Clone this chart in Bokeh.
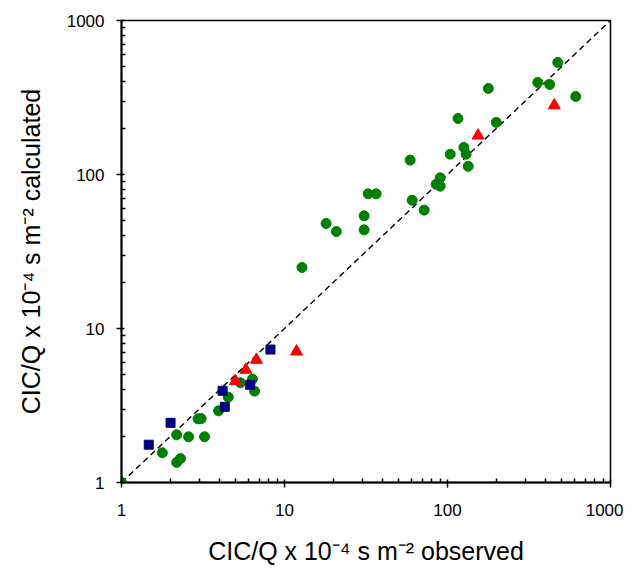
from bokeh.plotting import figure
from bokeh.models import Range1d, FixedTicker, PrintfTickFormatter
from bokeh.embed import file_html
from bokeh.resources import INLINE

# Green series (observed, calculated)
green_obs = [1, 1.78, 2.18, 2.58, 3.23, 2.18, 2.3, 2.95, 3.08, 3.94, 4.52, 5.37, 6.36, 6.55,
             12.8, 18.0, 20.8, 30.8, 30.8, 32.6, 36.5, 59, 60.7, 71.9, 85.2, 90.2, 90.2,
             103.9, 134, 126, 130, 116, 178, 199, 358, 424, 475, 612]
green_calc = [1, 1.56, 2.04, 1.98, 1.98, 1.35, 1.43, 2.59, 2.6, 2.92, 3.58, 4.44, 4.69, 3.92,
              24.9, 48.1, 42.6, 53.9, 43.7, 74.9, 74.9, 124, 68.1, 58.7, 86.5, 95.2, 84.0,
              135.5, 113, 150, 135.5, 231, 362, 218, 396, 384, 534, 321]

# Blue series
blue_obs = [1.47, 2.0, 4.17, 4.3, 6.16, 8.2]
blue_calc = [1.76, 2.44, 3.94, 3.1, 4.31, 7.3]

# Red series
red_obs = [5.0, 5.79, 6.73, 11.85, 154, 452]
red_calc = [4.55, 5.39, 6.26, 7.09, 179, 281]

# 1:1 line
line_vals = [1, 1000]

major_ticks = [1, 10, 100, 1000]
minor_ticks = [2, 3, 4, 5, 6, 7, 8, 9, 20, 30, 40, 50, 60, 70, 80, 90,
               200, 300, 400, 500, 600, 700, 800, 900]

x_label = "CIC/Q x 10\u207b\u2074 s m\u207b\u00b2 observed"
y_label = "CIC/Q x 10\u207b\u2074 s m\u207b\u00b2 calculated"

W, H = 623, 568
p = figure(width=W, height=H, x_axis_type="log", y_axis_type="log",
           x_range=Range1d(1, 1000), y_range=Range1d(1, 1000),
           output_backend="svg", toolbar_location=None,
           min_border_left=121, min_border_right=13, min_border_top=20, min_border_bottom=86)

p.background_fill_color = "white"
p.border_fill_color = "white"
p.outline_line_color = "black"
p.outline_line_width = 1.5
p.xgrid.visible = False
p.ygrid.visible = False

for ax in (p.xaxis[0], p.yaxis[0]):
    ax.ticker = FixedTicker(ticks=major_ticks, minor_ticks=minor_ticks)
    ax.formatter = PrintfTickFormatter(format="%d")
    ax.axis_line_color = "black"
    ax.axis_line_width = 2
    ax.major_tick_line_color = "black"
    ax.major_tick_line_width = 1.5
    ax.minor_tick_line_color = "black"
    ax.minor_tick_line_width = 1.5
    ax.major_tick_in = 3
    ax.major_tick_out = 5
    ax.minor_tick_in = 4
    ax.minor_tick_out = 0
    ax.major_label_text_font = "Liberation Sans"
    ax.major_label_text_font_size = "17px"
    ax.major_label_text_color = "black"
    ax.axis_label_text_font = "Liberation Sans"
    ax.axis_label_text_font_size = "25px"
    ax.axis_label_text_font_style = "normal"
    ax.axis_label_text_color = "black"

p.xaxis.axis_label = x_label
p.yaxis.axis_label = y_label
p.xaxis.major_label_standoff = 16
p.xaxis.axis_label_standoff = 18
p.yaxis.major_label_standoff = 12
p.yaxis.axis_label_standoff = 19

p.line(line_vals, line_vals, line_color="black", line_width=1.4, line_dash="6 4")

p.scatter(green_obs, green_calc, marker="circle", size=10, fill_color="#008000",
          line_color="#008000")
p.scatter(blue_obs, blue_calc, marker="square", size=9, fill_color="#000080",
          line_color="#000080")
p.scatter(red_obs, red_calc, marker="triangle", size=12, fill_color="#ff0000",
          line_color="#ff0000")

open("out.html", "w").write(file_html(p, INLINE))
